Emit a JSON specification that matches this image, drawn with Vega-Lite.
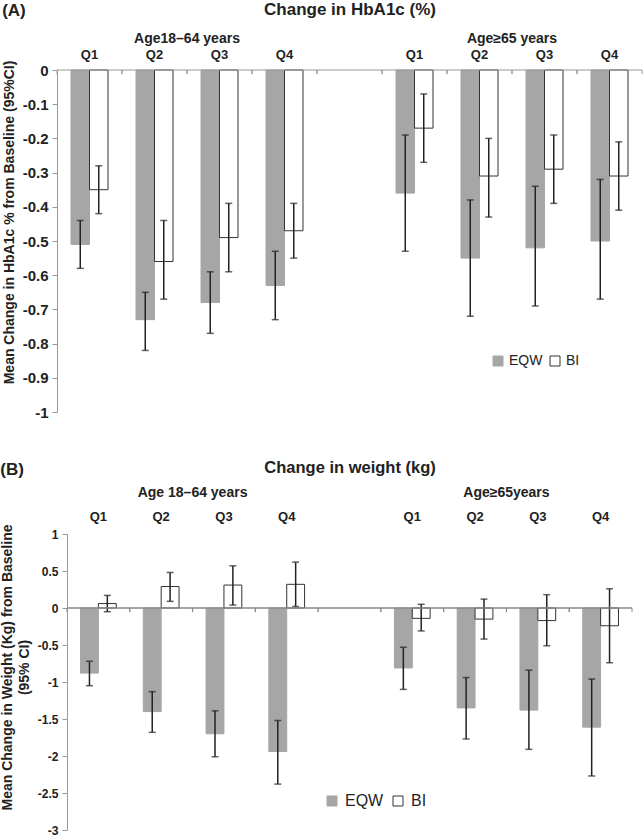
{
  "$schema": "https://vega.github.io/schema/vega-lite/v6.json",
  "padding": {"left": 0, "top": 0, "right": 0, "bottom": 0},
  "config": {"font": "Liberation Sans", "view": {"stroke": null}, "axis": {"grid": false}},
  "datasets": {
    "slots": [
      {"slot": "18–64 Q1"}, {"slot": "18–64 Q2"}, {"slot": "18–64 Q3"}, {"slot": "18–64 Q4"}, {"slot": "gap"},
      {"slot": "≥65 Q1"}, {"slot": "≥65 Q2"}, {"slot": "≥65 Q3"}, {"slot": "≥65 Q4"}
    ],
    "groupsA": [{"slot": "18–64 Q3", "group": "Age18–64 years"}, {"slot": "≥65 Q3", "group": "Age≥65 years"}],
    "groupsB": [{"slot": "18–64 Q3", "group": "Age 18–64 years"}, {"slot": "≥65 Q3", "group": "Age≥65years"}],
    "zero": [{"value": 0}],
    "hba1c": [
      {"slot": "18–64 Q1", "series": "EQW", "value": -0.51, "lo": -0.58, "hi": -0.44},
      {"slot": "18–64 Q1", "series": "BI", "value": -0.35, "lo": -0.42, "hi": -0.28},
      {"slot": "18–64 Q2", "series": "EQW", "value": -0.73, "lo": -0.82, "hi": -0.65},
      {"slot": "18–64 Q2", "series": "BI", "value": -0.56, "lo": -0.67, "hi": -0.44},
      {"slot": "18–64 Q3", "series": "EQW", "value": -0.68, "lo": -0.77, "hi": -0.59},
      {"slot": "18–64 Q3", "series": "BI", "value": -0.49, "lo": -0.59, "hi": -0.39},
      {"slot": "18–64 Q4", "series": "EQW", "value": -0.63, "lo": -0.73, "hi": -0.53},
      {"slot": "18–64 Q4", "series": "BI", "value": -0.47, "lo": -0.55, "hi": -0.39},
      {"slot": "≥65 Q1", "series": "EQW", "value": -0.36, "lo": -0.53, "hi": -0.19},
      {"slot": "≥65 Q1", "series": "BI", "value": -0.17, "lo": -0.27, "hi": -0.07},
      {"slot": "≥65 Q2", "series": "EQW", "value": -0.55, "lo": -0.72, "hi": -0.38},
      {"slot": "≥65 Q2", "series": "BI", "value": -0.31, "lo": -0.43, "hi": -0.20},
      {"slot": "≥65 Q3", "series": "EQW", "value": -0.52, "lo": -0.69, "hi": -0.34},
      {"slot": "≥65 Q3", "series": "BI", "value": -0.29, "lo": -0.39, "hi": -0.19},
      {"slot": "≥65 Q4", "series": "EQW", "value": -0.50, "lo": -0.67, "hi": -0.32},
      {"slot": "≥65 Q4", "series": "BI", "value": -0.31, "lo": -0.41, "hi": -0.21}
    ],
    "weight": [
      {"slot": "18–64 Q1", "series": "EQW", "value": -0.88, "lo": -1.05, "hi": -0.72},
      {"slot": "18–64 Q1", "series": "BI", "value": 0.06, "lo": -0.05, "hi": 0.17},
      {"slot": "18–64 Q2", "series": "EQW", "value": -1.40, "lo": -1.68, "hi": -1.13},
      {"slot": "18–64 Q2", "series": "BI", "value": 0.29, "lo": 0.09, "hi": 0.48},
      {"slot": "18–64 Q3", "series": "EQW", "value": -1.70, "lo": -2.01, "hi": -1.39},
      {"slot": "18–64 Q3", "series": "BI", "value": 0.31, "lo": 0.04, "hi": 0.57},
      {"slot": "18–64 Q4", "series": "EQW", "value": -1.94, "lo": -2.38, "hi": -1.52},
      {"slot": "18–64 Q4", "series": "BI", "value": 0.32, "lo": 0.02, "hi": 0.62},
      {"slot": "≥65 Q1", "series": "EQW", "value": -0.81, "lo": -1.10, "hi": -0.53},
      {"slot": "≥65 Q1", "series": "BI", "value": -0.14, "lo": -0.31, "hi": 0.05},
      {"slot": "≥65 Q2", "series": "EQW", "value": -1.35, "lo": -1.77, "hi": -0.94},
      {"slot": "≥65 Q2", "series": "BI", "value": -0.15, "lo": -0.42, "hi": 0.12},
      {"slot": "≥65 Q3", "series": "EQW", "value": -1.38, "lo": -1.91, "hi": -0.84},
      {"slot": "≥65 Q3", "series": "BI", "value": -0.17, "lo": -0.51, "hi": 0.18},
      {"slot": "≥65 Q4", "series": "EQW", "value": -1.61, "lo": -2.27, "hi": -0.96},
      {"slot": "≥65 Q4", "series": "BI", "value": -0.24, "lo": -0.74, "hi": 0.26}
    ]
  },
  "vconcat": [
    {
      "width": 585,
      "height": 342,
      "title": {"text": "(A)", "anchor": "start", "frame": "bounds", "fontSize": 17, "fontWeight": "bold", "color": "#222", "offset": -20},
      "layer": [
        {
          "data": {"name": "hba1c"},
          "mark": {"type": "bar", "strokeWidth": 1},
          "encoding": {
            "x": {
              "field": "slot", "type": "nominal",
              "scale": {"domain": ["18–64 Q1", "18–64 Q2", "18–64 Q3", "18–64 Q4", "gap", "≥65 Q1", "≥65 Q2", "≥65 Q3", "≥65 Q4"], "paddingInner": 0, "paddingOuter": 0},
              "axis": {"orient": "top", "title": "Change in HbA1c (%)", "labelExpr": "datum.value == 'gap' ? '' : slice(datum.value, -2)", "ticks": false, "domain": false, "labelAngle": 0, "labelFontSize": 13, "labelFontWeight": "bold", "labelColor": "#222", "labelPadding": 9, "titleFontSize": 17, "titleFontWeight": "bold", "titleColor": "#222", "titlePadding": 30}
            },
            "xOffset": {"field": "series", "type": "nominal", "scale": {"domain": ["EQW", "BI"], "paddingOuter": 0.757, "paddingInner": 0}},
            "y": {
              "field": "value", "type": "quantitative",
              "scale": {"domain": [-1, 0], "nice": false},
              "axis": {"title": "Mean Change in HbA1c % from Baseline (95%CI)", "values": [0, -0.1, -0.2, -0.3, -0.4, -0.5, -0.6, -0.7, -0.8, -0.9, -1], "tickCount": 30, "labelOverlap": false, "labelExpr": "replace(format(datum.value, '~g'), '\u2212', '-')", "labelFontSize": 15, "labelFontWeight": "bold", "labelColor": "#222", "labelPadding": 4, "tickSize": 5, "tickColor": "#999", "domainColor": "#999", "titleFontSize": 14, "titleFontWeight": "bold", "titleColor": "#222", "titlePadding": 6, "titleY": 152}
            },
            "fill": {"field": "series", "type": "nominal", "scale": {"domain": ["EQW", "BI"], "range": ["#a6a6a6", "#ffffff"]}, "legend": {"title": null, "orient": "none", "legendX": 434, "legendY": 284, "direction": "horizontal", "symbolType": "square", "symbolSize": 100, "symbolStrokeWidth": 1, "labelFontSize": 14, "labelColor": "#222", "labelOffset": 4, "columnPadding": 5}},
            "stroke": {"field": "series", "type": "nominal", "scale": {"domain": ["EQW", "BI"], "range": ["#a6a6a6", "#333333"]}, "legend": {"title": null, "orient": "none", "legendX": 434, "legendY": 284, "direction": "horizontal", "symbolType": "square", "symbolSize": 100, "symbolStrokeWidth": 1, "labelFontSize": 14, "labelColor": "#222", "labelOffset": 4, "columnPadding": 5}}
          }
        },
        {
          "data": {"name": "hba1c"},
          "mark": {"type": "rule", "color": "#222", "strokeWidth": 1.5},
          "encoding": {
            "x": {"field": "slot", "type": "nominal"},
            "xOffset": {"field": "series", "type": "nominal"},
            "y": {"field": "lo", "type": "quantitative"},
            "y2": {"field": "hi"}
          }
        },
        {
          "data": {"name": "hba1c"},
          "mark": {"type": "tick", "color": "#222", "thickness": 1.5, "size": 7, "orient": "horizontal"},
          "encoding": {
            "x": {"field": "slot", "type": "nominal"},
            "xOffset": {"field": "series", "type": "nominal"},
            "y": {"field": "lo", "type": "quantitative"}
          }
        },
        {
          "data": {"name": "hba1c"},
          "mark": {"type": "tick", "color": "#222", "thickness": 1.5, "size": 7, "orient": "horizontal"},
          "encoding": {
            "x": {"field": "slot", "type": "nominal"},
            "xOffset": {"field": "series", "type": "nominal"},
            "y": {"field": "hi", "type": "quantitative"}
          }
        },
        {
          "data": {"name": "zero"},
          "mark": {"type": "rule", "color": "#999", "strokeWidth": 1},
          "encoding": {"y": {"field": "value", "type": "quantitative"}}
        },
        {
          "data": {"name": "slots"},
          "mark": {"type": "rule", "color": "#999", "strokeWidth": 1},
          "encoding": {
            "x": {"field": "slot", "type": "nominal", "bandPosition": 0},
            "y": {"datum": 0},
            "y2": {"datum": -0.012}
          }
        },
        {
          "data": {"name": "slots"},
          "mark": {"type": "rule", "color": "#999", "strokeWidth": 1},
          "encoding": {
            "x": {"field": "slot", "type": "nominal", "bandPosition": 1},
            "y": {"datum": 0},
            "y2": {"datum": -0.012}
          }
        },
        {
          "data": {"name": "groupsA"},
          "mark": {"type": "text", "fontSize": 14, "fontWeight": "bold", "color": "#222", "baseline": "middle", "dy": -31},
          "encoding": {
            "x": {"field": "slot", "type": "nominal", "bandPosition": 0},
            "y": {"datum": 0},
            "text": {"field": "group"}
          }
        }
      ]
    },
    {
      "width": 565,
      "height": 296,
      "title": {"text": "(B)", "anchor": "start", "frame": "bounds", "fontSize": 17, "fontWeight": "bold", "color": "#222", "offset": -20},
      "layer": [
        {
          "data": {"name": "weight"},
          "mark": {"type": "bar", "strokeWidth": 1},
          "encoding": {
            "x": {
              "field": "slot", "type": "nominal",
              "scale": {"domain": ["18–64 Q1", "18–64 Q2", "18–64 Q3", "18–64 Q4", "gap", "≥65 Q1", "≥65 Q2", "≥65 Q3", "≥65 Q4"], "paddingInner": 0, "paddingOuter": 0},
              "axis": {"orient": "top", "title": "Change in weight (kg)", "labelExpr": "datum.value == 'gap' ? '' : slice(datum.value, -2)", "ticks": false, "domain": false, "labelAngle": 0, "labelFontSize": 13, "labelFontWeight": "bold", "labelColor": "#222", "labelPadding": 11, "titleFontSize": 16.5, "titleFontWeight": "bold", "titleColor": "#222", "titlePadding": 35}
            },
            "xOffset": {"field": "series", "type": "nominal", "scale": {"domain": ["EQW", "BI"], "paddingOuter": 0.757, "paddingInner": 0}},
            "y": {
              "field": "value", "type": "quantitative",
              "scale": {"domain": [-3, 1], "nice": false},
              "axis": {"title": ["Mean Change in Weight (Kg) from Baseline", "(95% CI)"], "values": [1, 0.5, 0, -0.5, -1, -1.5, -2, -2.5, -3], "tickCount": 30, "labelOverlap": false, "labelExpr": "replace(format(datum.value, '~g'), '\u2212', '-')", "labelFontSize": 12, "labelFontWeight": "bold", "labelColor": "#222", "labelPadding": 4, "tickSize": 5, "tickColor": "#999", "domainColor": "#999", "titleFontSize": 14, "titleFontWeight": "bold", "titleColor": "#222", "titlePadding": 6, "titleLineHeight": 17, "titleY": 133}
            },
            "fill": {"field": "series", "type": "nominal", "scale": {"domain": ["EQW", "BI"], "range": ["#a6a6a6", "#ffffff"]}, "legend": {"title": null, "orient": "none", "legendX": 257, "legendY": 259, "direction": "horizontal", "symbolType": "square", "symbolSize": 100, "symbolStrokeWidth": 1, "labelFontSize": 16, "labelColor": "#222", "labelOffset": 5, "columnPadding": 6}},
            "stroke": {"field": "series", "type": "nominal", "scale": {"domain": ["EQW", "BI"], "range": ["#a6a6a6", "#333333"]}, "legend": {"title": null, "orient": "none", "legendX": 257, "legendY": 259, "direction": "horizontal", "symbolType": "square", "symbolSize": 100, "symbolStrokeWidth": 1, "labelFontSize": 16, "labelColor": "#222", "labelOffset": 5, "columnPadding": 6}}
          }
        },
        {
          "data": {"name": "weight"},
          "mark": {"type": "rule", "color": "#222", "strokeWidth": 1.5},
          "encoding": {
            "x": {"field": "slot", "type": "nominal"},
            "xOffset": {"field": "series", "type": "nominal"},
            "y": {"field": "lo", "type": "quantitative"},
            "y2": {"field": "hi"}
          }
        },
        {
          "data": {"name": "weight"},
          "mark": {"type": "tick", "color": "#222", "thickness": 1.5, "size": 7, "orient": "horizontal"},
          "encoding": {
            "x": {"field": "slot", "type": "nominal"},
            "xOffset": {"field": "series", "type": "nominal"},
            "y": {"field": "lo", "type": "quantitative"}
          }
        },
        {
          "data": {"name": "weight"},
          "mark": {"type": "tick", "color": "#222", "thickness": 1.5, "size": 7, "orient": "horizontal"},
          "encoding": {
            "x": {"field": "slot", "type": "nominal"},
            "xOffset": {"field": "series", "type": "nominal"},
            "y": {"field": "hi", "type": "quantitative"}
          }
        },
        {
          "data": {"name": "zero"},
          "mark": {"type": "rule", "color": "#888", "strokeWidth": 1.5},
          "encoding": {"y": {"field": "value", "type": "quantitative"}}
        },
        {
          "data": {"name": "slots"},
          "mark": {"type": "rule", "color": "#888", "strokeWidth": 1},
          "encoding": {
            "x": {"field": "slot", "type": "nominal", "bandPosition": 0},
            "y": {"datum": 0},
            "y2": {"datum": -0.055}
          }
        },
        {
          "data": {"name": "slots"},
          "mark": {"type": "rule", "color": "#888", "strokeWidth": 1},
          "encoding": {
            "x": {"field": "slot", "type": "nominal", "bandPosition": 1},
            "y": {"datum": 0},
            "y2": {"datum": -0.055}
          }
        },
        {
          "data": {"name": "groupsB"},
          "mark": {"type": "text", "fontSize": 14, "fontWeight": "bold", "color": "#222", "baseline": "middle", "dy": -41},
          "encoding": {
            "x": {"field": "slot", "type": "nominal", "bandPosition": 0},
            "y": {"datum": 1},
            "text": {"field": "group"}
          }
        }
      ]
    }
  ],
  "spacing": 122,
  "bounds": "flush",
  "center": true,
  "resolve": {
    "scale": {"x": "independent", "y": "independent", "xOffset": "independent", "fill": "independent", "stroke": "independent"},
    "legend": {"fill": "independent", "stroke": "independent"}
  }
}
